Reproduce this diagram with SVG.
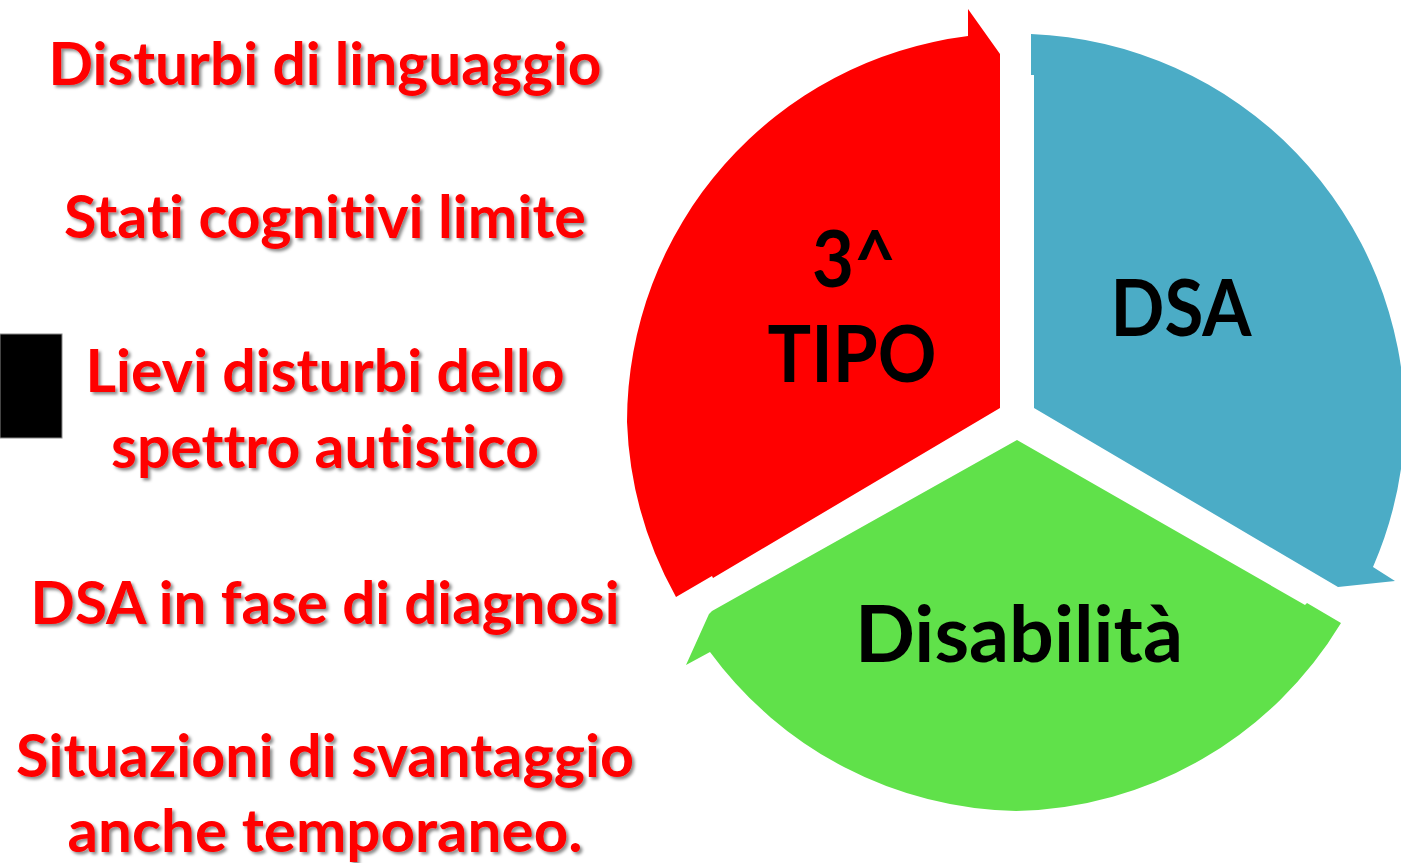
<svg xmlns="http://www.w3.org/2000/svg" width="1401" height="863" viewBox="0 0 1401 863">
<defs>
<filter id="sh" x="-5%" y="-20%" width="110%" height="150%">
<feDropShadow dx="2.5" dy="2.5" stdDeviation="1.5" flood-color="#000" flood-opacity="0.45"/>
</filter>
<style>
.lt{font-family:Lato,"Open Sans","Liberation Sans",sans-serif;font-weight:bold;font-size:59px;fill:#FF0000;text-anchor:middle;filter:url(#sh);font-variant-ligatures:none}
.pl{font-family:Lato,"Open Sans","Liberation Sans",sans-serif;font-weight:bold;font-size:79px;fill:#000;text-anchor:middle;font-variant-ligatures:none}
</style>
</defs>
<rect width="1401" height="863" fill="#fff"/>
<g id="marker-box"><rect x="0" y="334" width="62" height="104" fill="#000" stroke="#888" stroke-width="1"/></g>
<g id="list">
<text class="lt" x="325" y="85" textLength="553" lengthAdjust="spacingAndGlyphs">Disturbi di linguaggio</text>
<text class="lt" x="325" y="238" textLength="522" lengthAdjust="spacingAndGlyphs">Stati cognitivi limite</text>
<text class="lt" x="325" y="392" textLength="479" lengthAdjust="spacingAndGlyphs">Lievi disturbi dello</text>
<text class="lt" x="325" y="468" textLength="428" lengthAdjust="spacingAndGlyphs">spettro autistico</text>
<text class="lt" x="325" y="624" textLength="589" lengthAdjust="spacingAndGlyphs">DSA in fase di diagnosi</text>
<text class="lt" x="325" y="777" textLength="618" lengthAdjust="spacingAndGlyphs">Situazioni di svantaggio</text>
<text class="lt" x="325" y="852" textLength="515" lengthAdjust="spacingAndGlyphs">anche temporaneo.</text>
</g>
<g id="node-3tipo">
<path d="M1000,408 L1000,54 L968,9 L968,36 A389,389 0 0 0 627,422 A389,389 0 0 0 676,597 L712,576 L713,578 Z" fill="#FF0000"/>
<text class="pl" x="854" y="287" textLength="84" lengthAdjust="spacingAndGlyphs">3^</text>
<text class="pl" x="852" y="382" textLength="169" lengthAdjust="spacingAndGlyphs">TIPO</text>
</g>
<g id="node-dsa">
<path d="M1034,408 L1034,75 L1031,75 L1031,34 A389,389 0 0 1 1405,422 A389,389 0 0 1 1373,567 L1395,581 L1338,587 Z" fill="#4BACC6"/>
<text class="pl" x="1181" y="336" textLength="141" lengthAdjust="spacingAndGlyphs">DSA</text>
</g>
<g id="node-disabilita">
<path d="M1017,440 L1305,605 L1307,603 L1341,623 A389,389 0 0 1 1016,811 A389,389 0 0 1 710,652 L686,665 L709,614 L712,611 Z" fill="#60E14A"/>
<text class="pl" x="1019" y="662" textLength="328" lengthAdjust="spacingAndGlyphs">Disabilità</text>
</g>
<g id="connectors"></g>
</svg>
